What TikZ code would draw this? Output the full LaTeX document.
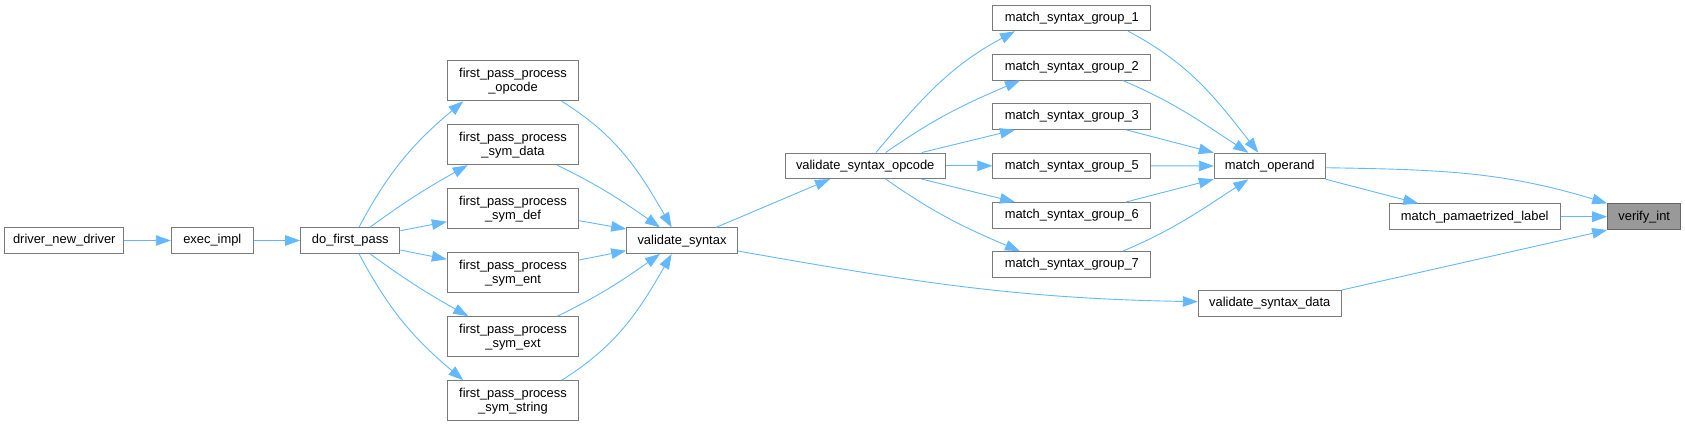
\documentclass[tikz,border=0pt]{standalone}
\usepackage{fontspec}
\setmainfont{Liberation Sans}
\usetikzlibrary{arrows.meta}
\definecolor{edgeblue}{HTML}{63B8FF}
\definecolor{boxline}{HTML}{7A7A7A}
\definecolor{boxgray}{HTML}{999999}
\begin{document}
\begin{tikzpicture}[x=1pt, y=-1pt, font=\fontsize{12.9}{14}\selectfont,
    fn/.style={draw=boxline, line width=1pt, fill=white, inner sep=0pt,
        minimum height=25.6pt, align=center},
    call/.style={draw=edgeblue, line width=0.9pt,
        -{Triangle[length=15pt, width=10.5pt]}}]
    \useasboundingbox (0,0) rectangle (1685,426);

    % Callers on the left
    \node[fn, minimum width=119.3pt] (drv) at (64.3,240.5) {driver\_new\_driver};
    \node[fn, minimum width=82pt] (exec) at (212.3,240.5) {exec\_impl};
    \node[fn, minimum width=99.3pt] (dofp) at (350.3,240.5) {do\_first\_pass};

    % First pass handlers
    \foreach \i/\y/\lab in {1/80.7/opcode, 2/144.7/sym\_data, 3/208.7/sym\_def,
        4/272.7/sym\_ent, 5/336.7/sym\_ext, 6/400.7/sym\_string} {
        \node[fn, minimum width=131.3pt, minimum height=40pt] (fp\i) at (513,\y)
            {first\_pass\_process\\\_\lab};
    }

    \node[fn, minimum width=110.6pt] (vs) at (682,240.7) {validate\_syntax};
    \node[fn, minimum width=160.3pt] (vso) at (865.2,165.8) {validate\_syntax\_opcode};

    % Syntax groups (there is no group 4)
    \foreach \i/\y in {1/18, 2/67.2, 3/116.5, 5/165.8, 6/215.3, 7/264.5} {
        \node[fn, minimum width=157.7pt] (g\i) at (1071.8,\y) {match\_syntax\_group\_\i};
    }

    \node[fn, minimum width=111pt] (mo) at (1269.8,166) {match\_operand};
    \node[fn, minimum width=171.3pt] (mpl) at (1474.7,216.7) {match\_pamaetrized\_label};
    \node[fn, minimum width=143pt] (vsd) at (1269.8,303.3) {validate\_syntax\_data};
    \node[fn, minimum width=73pt, fill=boxgray, draw=black!60] (vi) at (1644.2,216.7) {verify\_int};

    % Calls
    \draw[call] (drv) -- (exec);
    \draw[call] (exec) -- (dofp);

    \draw[call] ([xshift=8.7pt]dofp.north) to[out=62, in=220] ([xshift=-49.7pt]fp1.south);
    \draw[call] ([xshift=19.7pt]dofp.north) to[out=36, in=209] ([xshift=-45.3pt]fp2.south);
    \draw[call] ([yshift=9.8pt]dofp.east) -- ([yshift=-13pt]fp3.west);
    \draw[call] ([yshift=-9.5pt]dofp.east) -- ([yshift=13.4pt]fp4.west);
    \draw[call] ([xshift=19.7pt]dofp.south) to[out=-36, in=151] ([xshift=-44.7pt]fp5.north);
    \draw[call] ([xshift=8.7pt]dofp.south) to[out=-62, in=140] ([xshift=-49.7pt]fp6.north);

    \draw[call] ([xshift=48.7pt]fp1.south) to[out=-32, in=120] ([xshift=-10.3pt]vs.north);
    \draw[call] ([xshift=44.3pt]fp2.south) to[out=-26, in=145] ([xshift=-22pt]vs.north);
    \draw[call] ([yshift=-12pt]fp3.east) -- ([yshift=11.7pt]vs.west);
    \draw[call] ([yshift=12.7pt]fp4.east) -- ([yshift=-10pt]vs.west);
    \draw[call] ([xshift=44.3pt]fp5.north) to[out=26, in=-145] ([xshift=-22pt]vs.south);
    \draw[call] ([xshift=48.7pt]fp6.north) to[out=32, in=-120] ([xshift=-10.3pt]vs.south);

    \draw[call] ([xshift=34pt]vs.north) -- ([xshift=-35.2pt]vso.south);
    \draw[call] ([yshift=-10.3pt]vs.east) to[out=-10, in=179] ([yshift=1.6pt]vsd.west);

    \draw[call] ([xshift=10.8pt]vso.north) to[out=50, in=208] ([xshift=-56.8pt]g1.south);
    \draw[call] ([xshift=20.5pt]vso.north) to[out=35, in=203] ([xshift=-51.8pt]g2.south);
    \draw[call] ([xshift=56.5pt]vso.north) -- ([xshift=-56.8pt]g3.south);
    \draw[call] (vso) -- (g5);
    \draw[call] ([xshift=56.5pt]vso.south) -- ([xshift=-56.8pt]g6.north);
    \draw[call] ([xshift=20.5pt]vso.south) to[out=-35, in=157] ([xshift=-51.8pt]g7.north);

    \draw[call] ([xshift=56.5pt]g1.south) to[out=-28, in=128] ([xshift=-11.5pt]mo.north);
    \draw[call] ([xshift=50.9pt]g2.south) to[out=-23, in=147] ([xshift=-21.5pt]mo.north);
    \draw[call] ([xshift=54.2pt]g3.south) -- (mo.north west);
    \draw[call] (g5) -- (mo);
    \draw[call] ([xshift=54.2pt]g6.north) -- (mo.south west);
    \draw[call] ([xshift=50.9pt]g7.north) to[out=23, in=-147] ([xshift=-21.5pt]mo.south);

    \draw[call] ([yshift=-1.7pt]mo.east) to[out=-1, in=163] (vi.north west);
    \draw[call] (mo.south east) -- ([xshift=-56.4pt]mpl.north);
    \draw[call] (mpl) -- (vi);
    \draw[call] (vsd.north east) -- (vi.south west);
\end{tikzpicture}
\end{document}
